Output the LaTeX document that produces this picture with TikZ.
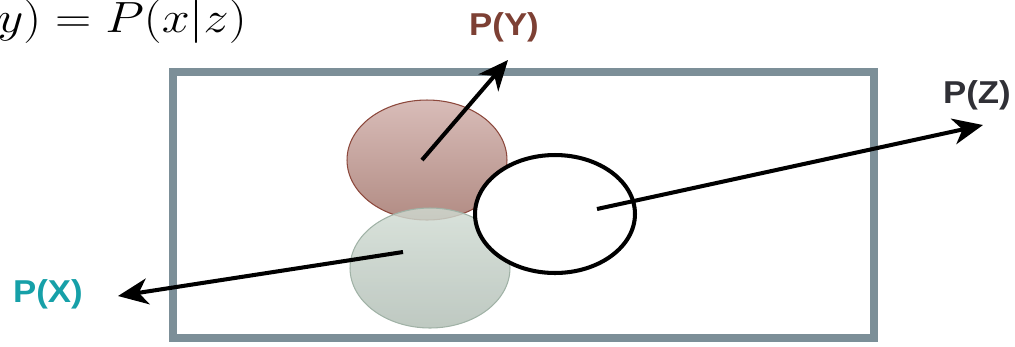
\documentclass[tikz,border=0pt]{standalone}
\usepackage{fontspec}
\newfontfamily\labelfont{Liberation Sans}
\definecolor{boxgray}{RGB}{124,143,152}
\definecolor{ybrown}{RGB}{125,64,52}
\definecolor{xteal}{RGB}{22,160,168}
\definecolor{zdark}{RGB}{48,48,54}
\definecolor{ytop}{RGB}{216,188,184}
\definecolor{ybot}{RGB}{178,140,132}
\definecolor{yedge}{RGB}{140,72,60}
\definecolor{xtop}{RGB}{208,219,210}
\definecolor{xbot}{RGB}{176,189,180}
\definecolor{xedge}{RGB}{160,178,166}
\usetikzlibrary{shapes.geometric,arrows.meta,positioning,calc}

\begin{document}
\begin{tikzpicture}[x=0.02cm,y=-0.02cm,
    setshape/.style={ellipse, minimum width=3.2cm, minimum height=2.4cm, inner sep=0pt},
    pointer/.style={-{Stealth[length=0.6cm,width=0.52cm,inset=0.18cm]}, line width=2.3pt},
    problabel/.style={anchor=base, xscale=1.1, font=\labelfont\bfseries\fontsize{18}{22}\selectfont}]
    \useasboundingbox (0,0) rectangle (1015,346);
    \clip (0,0) rectangle (1015,346);
    % equation, cut by the left edge
    \node[anchor=base east, inner sep=0pt, xscale=1.15, font=\fontsize{25}{30}\selectfont] (eqn) at (247,32) {$P(x|y) = P(x|z)$};
    % sample space
    \draw[boxgray, line width=4.4pt] (173,72) rectangle (874,338);
    % the three sets
    \node[setshape, draw=yedge, line width=0.6pt, top color=ytop, bottom color=ybot] (yset) at (427,160) {};
    \node[setshape, draw=xedge, line width=0.6pt, top color=xtop, bottom color=xbot, fill opacity=0.82] (xset) at (430,268) {};
    \node[setshape, draw=black, line width=2.3pt, fill=white, minimum height=2.36cm] (zset) at (555,214) {};
    % tails and tips
    \coordinate (ytail) at (422,160);
    \coordinate (ytip) at (508,60);
    \coordinate (ztail) at (597,209);
    \coordinate (ztip) at (983,125);
    \coordinate (xtail) at (403,252);
    \coordinate (xtip) at (118,296);
    \draw[pointer] (ytail) -- (ytip);
    \draw[pointer] (ztail) -- (ztip);
    \draw[pointer] (xtail) -- (xtip);
    % labels
    \node[problabel, text=ybrown] (ylab) at (504,35) {P(Y)};
    \node[problabel, text=zdark] (zlab) at (977,103) {P(Z)};
    \node[problabel, text=xteal] (xlab) at (48,302) {P(X)};
\end{tikzpicture}
\end{document}
